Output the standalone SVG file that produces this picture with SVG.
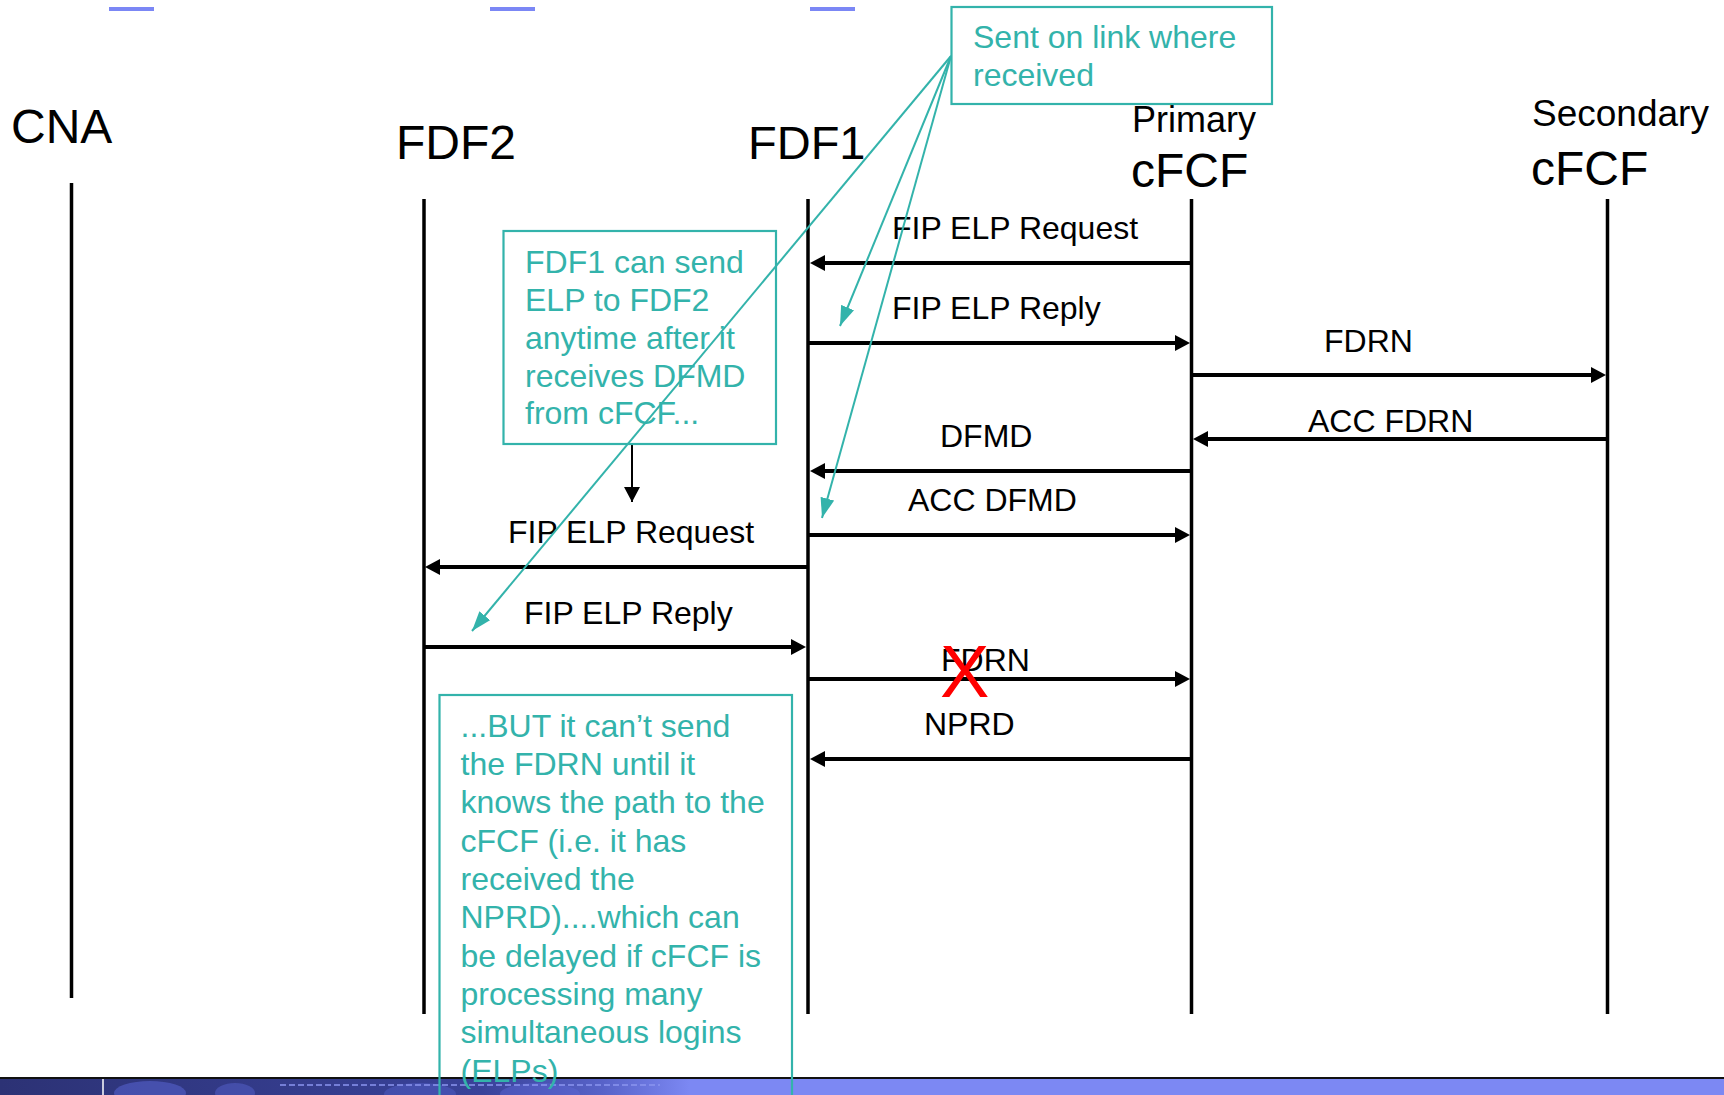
<svg xmlns="http://www.w3.org/2000/svg" width="1724" height="1095" viewBox="0 0 1724 1095">
  <style>
    .title { font-family: "Liberation Sans", Arial, Helvetica, sans-serif; fill: #000; }
    .msg { font-family: "Liberation Sans", Arial, Helvetica, sans-serif; font-size: 32px; fill: #000; }
    .note { font-family: "Liberation Sans", Arial, Helvetica, sans-serif; font-size: 32px; fill: #33b3ab; }
    .life { stroke: #000; stroke-width: 3.5; fill: none; }
    .arrow { stroke: #000; stroke-width: 4; fill: none; marker-end: url(#head); }
    .callout { stroke: #33b3ab; stroke-width: 2; fill: none; marker-end: url(#tealHead); }
    .notebox { stroke: #33b3ab; stroke-width: 2.2; }
  </style>
  <defs>
    <marker id="head" viewBox="0 0 15 16" refX="5" refY="8" markerWidth="15" markerHeight="16" markerUnits="userSpaceOnUse" orient="auto">
      <path d="M0,0 L15,8 L0,16 z" fill="#000"/>
    </marker>
    <marker id="smallHead" viewBox="0 0 15 16" refX="15" refY="8" markerWidth="15" markerHeight="16" markerUnits="userSpaceOnUse" orient="auto">
      <path d="M0,0 L15,8 L0,16 z" fill="#000"/>
    </marker>
    <marker id="tealHead" viewBox="0 0 20 14" refX="20" refY="7" markerWidth="20" markerHeight="14" markerUnits="userSpaceOnUse" orient="auto">
      <path d="M0,0 L20,7 L0,14 z" fill="#33b3ab"/>
    </marker>
    <linearGradient id="band" x1="0" y1="0" x2="1" y2="0">
      <stop offset="0" stop-color="#2c3275"/>
      <stop offset="0.28" stop-color="#39429a"/>
      <stop offset="0.35" stop-color="#5863c9"/>
      <stop offset="0.40" stop-color="#7c88f3"/>
      <stop offset="1" stop-color="#7c88f3"/>
    </linearGradient>
  </defs>

  <!-- header accent bars -->
  <rect x="109" y="7" width="45" height="4" fill="#7b87f5"/>
  <rect x="490" y="7" width="45" height="4" fill="#7b87f5"/>
  <rect x="810" y="7" width="45" height="4" fill="#7b87f5"/>

  <!-- footer band -->
  <g id="footer">
    <rect x="0" y="1079" width="1724" height="16" fill="url(#band)"/>
    <ellipse cx="150" cy="1093" rx="36" ry="12" fill="#5561cc" opacity="0.6"/>
    <ellipse cx="235" cy="1093" rx="20" ry="10" fill="#5561cc" opacity="0.5"/>
    <ellipse cx="420" cy="1094" rx="36" ry="11" fill="#5561cc" opacity="0.45"/>
    <ellipse cx="540" cy="1094" rx="40" ry="11" fill="#5d69d6" opacity="0.45"/>
    <line x1="280" y1="1085" x2="660" y2="1085" stroke="#8b95f0" stroke-width="1.5" stroke-dasharray="6 3"/>
    <line x1="103" y1="1079" x2="103" y2="1095" stroke="#fff" stroke-width="1.5"/>
    <line x1="0" y1="1078" x2="1724" y2="1078" stroke="#111" stroke-width="2"/>
  </g>

  <!-- lifelines -->
  <g id="cna">
    <text class="title" x="11" y="143" font-size="48">CNA</text>
    <line class="life" x1="71.5" y1="183" x2="71.5" y2="998"/>
  </g>
  <g id="fdf2">
    <text class="title" x="396" y="159" font-size="48">FDF2</text>
    <line class="life" x1="424" y1="199" x2="424" y2="1014"/>
  </g>
  <g id="fdf1">
    <text class="title" x="748" y="159" font-size="47">FDF1</text>
    <line class="life" x1="808" y1="199" x2="808" y2="1014"/>
  </g>
  <g id="primary-cfcf">
    <text class="title" x="1132" y="132" font-size="36">Primary</text>
    <text class="title" x="1131" y="187" font-size="48">cFCF</text>
    <line class="life" x1="1191.5" y1="199" x2="1191.5" y2="1014"/>
  </g>
  <g id="secondary-cfcf">
    <text class="title" x="1532" y="126" font-size="37">Secondary</text>
    <text class="title" x="1531" y="185" font-size="48">cFCF</text>
    <line class="life" x1="1607.5" y1="199" x2="1607.5" y2="1014"/>
  </g>

  <!-- message exchange -->
  <g id="connectors">
    <line class="arrow" x1="1191.5" y1="263" x2="820" y2="263"/>
    <text class="msg" x="892" y="239">FIP ELP Request</text>

    <line class="arrow" x1="808" y1="343" x2="1180" y2="343"/>
    <text class="msg" x="892" y="319">FIP ELP Reply</text>

    <line class="arrow" x1="1191.5" y1="375" x2="1596" y2="375"/>
    <text class="msg" x="1324" y="352">FDRN</text>

    <line class="arrow" x1="1607.5" y1="439" x2="1203" y2="439"/>
    <text class="msg" x="1308" y="432">ACC FDRN</text>

    <line class="arrow" x1="1191.5" y1="471" x2="820" y2="471"/>
    <text class="msg" x="940" y="447">DFMD</text>

    <line class="arrow" x1="808" y1="535" x2="1180" y2="535"/>
    <text class="msg" x="908" y="511">ACC DFMD</text>

    <line class="arrow" x1="808" y1="567" x2="435" y2="567"/>
    <text class="msg" x="508" y="543">FIP ELP Request</text>

    <line class="arrow" x1="424" y1="647" x2="796" y2="647"/>
    <text class="msg" x="524" y="624">FIP ELP Reply</text>

    <line class="arrow" x1="808" y1="679" x2="1180" y2="679"/>
    <text class="msg" x="941" y="671">FDRN</text>
    <text x="940" y="697" font-family="Liberation Sans, Arial, sans-serif" font-size="74" fill="#ff0000">X</text>

    <line class="arrow" x1="1191.5" y1="759" x2="820" y2="759"/>
    <text class="msg" x="924" y="735">NPRD</text>

    <!-- note pointer -->
    <line x1="632" y1="444" x2="632" y2="502" stroke="#000" stroke-width="2" marker-end="url(#smallHead)"/>
  </g>

  <!-- annotation notes -->
  <g id="note-fdf1">
    <rect class="notebox" x="503.5" y="231" width="272.5" height="213" fill="none"/>
    <text class="note" x="525" y="272.7">FDF1 can send</text>
    <text class="note" x="525" y="310.7">ELP to FDF2</text>
    <text class="note" x="525" y="349">anytime after it</text>
    <text class="note" x="525" y="386.7">receives DFMD</text>
    <text class="note" x="525" y="424">from cFCF...</text>
  </g>

  <g id="note-but">
    <rect class="notebox" x="439.5" y="695" width="352.5" height="420" fill="none"/>
    <text class="note" x="460.5" y="736.5">...BUT it can’t send</text>
    <text class="note" x="460.5" y="774.9">the FDRN until it</text>
    <text class="note" x="460.5" y="813.2">knows the path to the</text>
    <text class="note" x="460.5" y="851.6">cFCF (i.e. it has</text>
    <text class="note" x="460.5" y="889.9">received the</text>
    <text class="note" x="460.5" y="928.3">NPRD)....which can</text>
    <text class="note" x="460.5" y="966.6">be delayed if cFCF is</text>
    <text class="note" x="460.5" y="1005">processing many</text>
    <text class="note" x="460.5" y="1043.3">simultaneous logins</text>
    <text class="note" x="460.5" y="1081.7">(ELPs)</text>
  </g>

  <g id="note-link">
    <rect class="notebox" x="951.5" y="7" width="320.5" height="97" fill="#fff"/>
    <text class="note" x="973" y="48">Sent on link where</text>
    <text class="note" x="973" y="86">received</text>
  </g>

  <!-- callout pointers -->
  <g id="callouts">
    <path class="callout" d="M951,56 L472,631"/>
    <path class="callout" d="M951,56 L840,326"/>
    <path class="callout" d="M951,56 L822,518"/>
  </g>
</svg>
